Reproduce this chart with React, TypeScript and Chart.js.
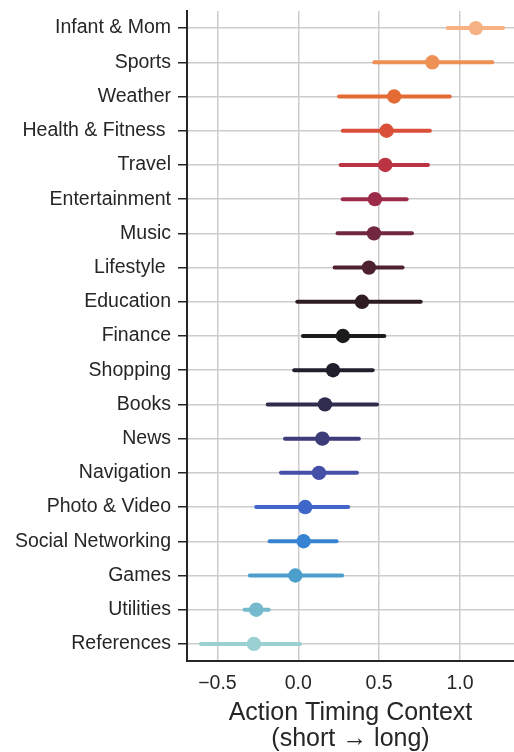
import React, { useEffect, useRef } from "react";
import { Chart, registerables } from "chart.js";

Chart.register(...registerables);

const categories = [
  "Infant & Mom",
  "Sports",
  "Weather",
  "Health & Fitness ",
  "Travel",
  "Entertainment",
  "Music",
  "Lifestyle ",
  "Education",
  "Finance",
  "Shopping",
  "Books",
  "News",
  "Navigation",
  "Photo & Video",
  "Social Networking",
  "Games",
  "Utilities",
  "References",
];

const means = [1.098, 0.829, 0.593, 0.546, 0.538, 0.474, 0.468, 0.437, 0.394, 0.276, 0.215, 0.165, 0.149, 0.128, 0.043, 0.033, -0.018, -0.26, -0.274];
const lows = [0.924, 0.47, 0.252, 0.275, 0.262, 0.275, 0.243, 0.225, -0.006, 0.029, -0.025, -0.189, -0.082, -0.107, -0.26, -0.177, -0.3, -0.332, -0.602];
const highs = [1.266, 1.2, 0.937, 0.814, 0.802, 0.67, 0.703, 0.645, 0.757, 0.532, 0.46, 0.487, 0.375, 0.363, 0.309, 0.237, 0.272, -0.183, 0.012];

const colors = [
  "#f6b282", "#ef9155", "#e56b35", "#d94f3a", "#bc3444", "#9b2b48", "#722740",
  "#4d2130", "#2e1c22", "#1b1b1b", "#221f2c", "#2f2c4e", "#3d3b78", "#4550a9",
  "#3f66c8", "#3684d1", "#4c9fcb", "#74b9cc", "#9bd0d3",
];

const xTicks = [-0.5, 0, 0.5, 1.0];
const xTitle = ["Action Timing Context", "(short \u2192 long)"];

export default function App() {
  const ref = useRef<HTMLCanvasElement | null>(null);

  useEffect(() => {
    if (!ref.current) return;
    const errDatasets = categories.map((c, i) => ({
      type: "line" as const,
      data: [
        { x: lows[i], y: c },
        { x: highs[i], y: c },
      ],
      borderColor: colors[i],
      borderWidth: 4,
      borderCapStyle: "round" as const,
      pointRadius: 0,
      order: 2,
    }));
    const chart = new Chart(ref.current, {
      type: "scatter",
      data: {
        labels: categories,
        datasets: [
          {
            type: "scatter",
            data: categories.map((c, i) => ({ x: means[i], y: c })),
            backgroundColor: colors,
            borderColor: colors,
            pointRadius: 7.2,
            pointBorderWidth: 0,
            order: 1,
          } as any,
          ...errDatasets,
        ],
      },
      options: {
        animation: false,
        responsive: true,
        maintainAspectRatio: false,
        layout: { autoPadding: false, padding: { top: 11, right: 0, left: 0, bottom: 0 } },
        plugins: { legend: { display: false }, tooltip: { enabled: false } },
        scales: {
          x: {
            type: "linear",
            position: "bottom",
            min: -0.688,
            max: 1.334,
            afterBuildTicks: (scale: any) => {
              scale.ticks = xTicks.map((v) => ({ value: v }));
            },
            afterFit: (scale: any) => {
              scale.height = 91;
              scale.paddingLeft = 0;
              scale.paddingRight = 0;
            },
            grid: { color: "#cccccc", lineWidth: 1.5, drawTicks: false },
            border: { display: true, color: "#262626", width: 2 },
            ticks: {
              color: "#262626",
              font: { family: "'Liberation Sans', Arial, sans-serif", size: 19.5 },
              padding: 11,
              callback: (v: any) => {
                const n = Number(v);
                const s = Math.abs(n).toFixed(1);
                return n < 0 ? "\u2212" + s : s;
              },
            },
            title: {
              display: true,
              text: xTitle,
              color: "#262626",
              font: { family: "'Liberation Sans', Arial, sans-serif", size: 25, lineHeight: 1.05 },
              padding: { top: 2, bottom: 0 },
            },
          },
          y: {
            type: "category",
            labels: categories,
            offset: true,
            afterFit: (scale: any) => {
              scale.width = 187;
              scale.paddingTop = 0;
              scale.paddingBottom = 0;
            },
            grid: {
              color: "#cccccc",
              lineWidth: 1.5,
              drawTicks: true,
              tickLength: 9,
              tickColor: "#262626",
              tickWidth: 1.5,
              offset: false,
            },
            border: { display: true, color: "#262626", width: 2 },
            ticks: {
              color: "#262626",
              font: { family: "'Liberation Sans', Arial, sans-serif", size: 19.5 },
              padding: 7,
              autoSkip: false,
            },
          },
        },
      },
    } as any);
    return () => chart.destroy();
  }, []);

  return (
    <div style={{ position: "fixed", left: 0, top: 0, width: 514, height: 752, background: "#fff" }}>
      <canvas ref={ref} />
    </div>
  );
}
